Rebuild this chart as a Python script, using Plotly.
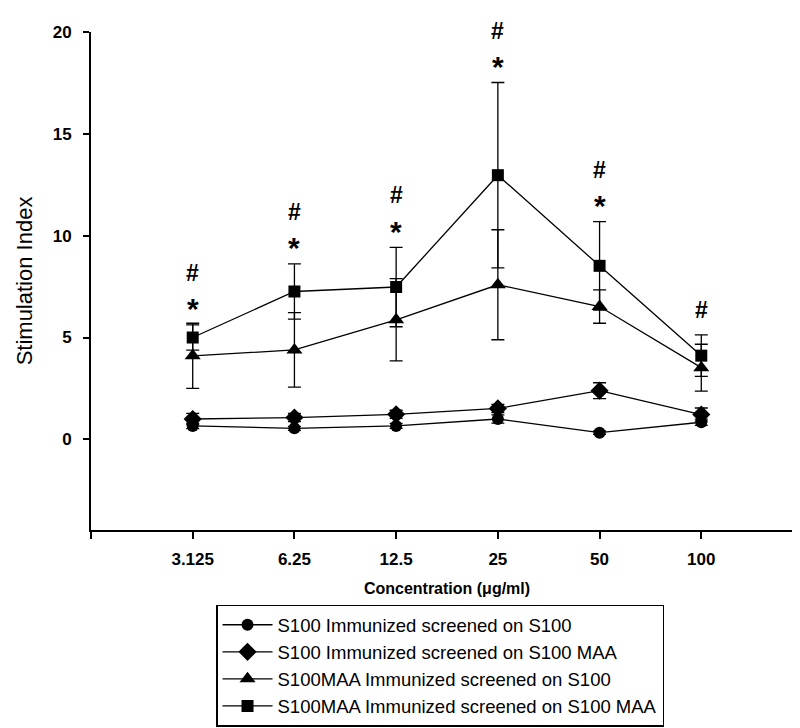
import plotly.graph_objects as go

# ---- data ----
conc_labels = ["3.125", "6.25", "12.5", "25", "50", "100"]

s100_on_s100 = [0.66, 0.54, 0.66, 1.00, 0.33, 0.84]
s100_on_s100_err = [0.13, 0.10, 0.12, 0.20, 0.08, 0.15]

s100_on_maa = [1.00, 1.07, 1.23, 1.52, 2.39, 1.22]
s100_on_maa_err = [0.28, 0.20, 0.20, 0.20, 0.39, 0.32]

maa_on_s100 = [4.10, 4.39, 5.87, 7.59, 6.52, 3.52]
maa_on_s100_err = [1.60, 1.83, 2.02, 2.70, 0.82, 1.15]

maa_on_maa = [5.00, 7.26, 7.48, 12.97, 8.52, 4.11]
maa_on_maa_err = [0.62, 1.36, 1.95, 4.55, 2.17, 1.02]

star_flags = [1, 1, 1, 1, 1, 0]
hash_flags = [1, 1, 1, 1, 1, 1]

series_names = [
    "S100 Immunized screened on S100",
    "S100 Immunized screened on S100 MAA",
    "S100MAA Immunized screened on S100",
    "S100MAA Immunized screened on S100 MAA",
]

FONT = "Liberation Sans, Arial, sans-serif"
xpos = list(range(len(conc_labels)))

fig = go.Figure()

series = [
    (s100_on_s100, s100_on_s100_err, "circle", 12),
    (s100_on_maa, s100_on_maa_err, "diamond", 14),
    (maa_on_s100, maa_on_s100_err, "triangle-up", 14),
    (maa_on_maa, maa_on_maa_err, "square", 12),
]
for name, (vals, errs, sym, size) in zip(series_names, series):
    fig.add_trace(go.Scatter(
        x=xpos, y=vals, name=name, mode="lines+markers",
        line=dict(color="black", width=1.3),
        marker=dict(symbol=sym, size=size, color="black"),
        error_y=dict(type="data", array=errs, visible=True,
                     color="black", thickness=1.3, width=6.5),
    ))

annotations = []
for i in xpos:
    top = maa_on_maa[i] + maa_on_maa_err[i]
    if star_flags[i]:
        annotations.append(dict(x=i, y=top, text="<b>*</b>", showarrow=False,
                                yanchor="middle", yshift=16,
                                font=dict(family=FONT, size=30, color="black")))
    if hash_flags[i]:
        shift = 52 if star_flags[i] else 25
        annotations.append(dict(x=i, y=top, text="<b>#</b>", showarrow=False,
                                yanchor="middle", yshift=shift,
                                font=dict(family=FONT, size=23, color="black")))

tickvals = [-1] + xpos + [len(conc_labels)]
ticktext = [""] + conc_labels + [""]

fig.update_layout(
    width=800, height=728,
    margin=dict(l=83, r=5, t=24, b=206, autoexpand=False),
    paper_bgcolor="white", plot_bgcolor="white",
    font=dict(family=FONT, color="black"),
    showlegend=True,
    legend=dict(
        x=0.1756, y=-0.150, xanchor="left", yanchor="top",
        bordercolor="black", borderwidth=1.5, bgcolor="white",
        font=dict(family=FONT, size=18.5, color="black"),
        tracegroupgap=0, itemwidth=50,
    ),
    annotations=annotations,
    xaxis=dict(
        range=[-1, len(conc_labels)], tickmode="array",
        tickvals=tickvals, ticktext=ticktext,
        showgrid=False, zeroline=False,
        showline=True, linecolor="black", linewidth=2,
        ticks="outside", ticklen=7, tickwidth=2, tickcolor="black",
        tickfont=dict(family=FONT, size=17, color="black", weight="bold"),
        ticklabelstandoff=6,
        title=dict(text="<b>Concentration (μg/ml)</b>", standoff=14,
                   font=dict(family=FONT, size=16, color="black")),
        automargin=False,
    ),
    yaxis=dict(
        range=[-4.45, 20], tickmode="array", tickvals=[0, 5, 10, 15, 20],
        showgrid=False, zeroline=False,
        showline=True, linecolor="black", linewidth=2,
        ticks="outside", ticklen=6, tickwidth=2, tickcolor="black",
        tickfont=dict(family=FONT, size=17, color="black", weight="bold"),
        ticklabelstandoff=8,
        title=dict(text="Stimulation Index", standoff=14,
                   font=dict(family=FONT, size=22, color="black")),
        automargin=False,
    ),
)

fig.write_html("out.html")
